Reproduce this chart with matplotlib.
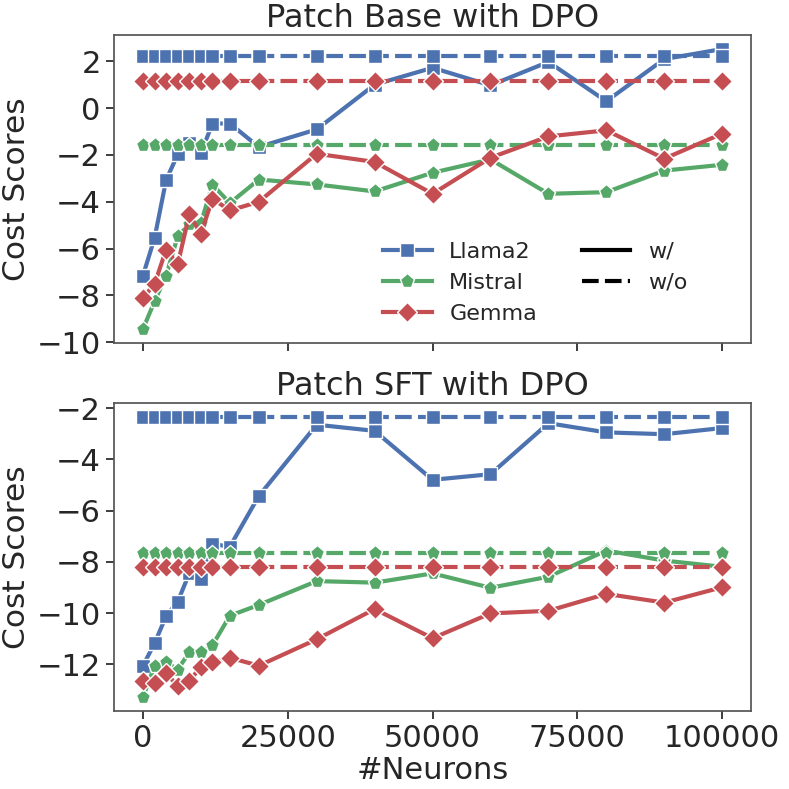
import matplotlib
matplotlib.use("Agg")
import matplotlib.pyplot as plt
from matplotlib.lines import Line2D

neurons = [0, 2000, 4000, 6000, 8000, 10000, 12000, 15000, 20000,
           30000, 40000, 50000, 60000, 70000, 80000, 90000, 100000]
models = ["Llama2", "Mistral", "Gemma"]

# Patch Base with DPO
base_llama2_w = [-7.15, -5.55, -3.07, -1.98, -1.48, -1.92, -0.66, -0.66, -1.66,
                 -0.91, 1.00, 1.72, 0.97, 1.97, 0.29, 2.09, 2.52]
base_mistral_w = [-9.43, -8.25, -7.15, -5.47, -4.97, -4.90, -3.27, -4.06, -3.05,
                  -3.26, -3.56, -2.76, -2.19, -3.66, -3.59, -2.67, -2.42]
base_gemma_w = [-8.11, -7.51, -6.04, -6.67, -4.54, -5.37, -3.87, -4.37, -4.00,
                -1.95, -2.30, -3.66, -2.12, -1.21, -0.95, -2.16, -1.09]
base_llama2_wo = 2.23
base_mistral_wo = -1.58
base_gemma_wo = 1.14

# Patch SFT with DPO
sft_llama2_w = [-12.05, -11.18, -10.11, -9.55, -8.45, -8.68, -7.30, -7.41, -5.43,
                -2.65, -2.89, -4.80, -4.58, -2.59, -2.95, -3.02, -2.78]
sft_mistral_w = [-13.27, -12.07, -11.91, -12.20, -11.53, -11.53, -11.25, -10.10, -9.68,
                 -8.75, -8.81, -8.45, -9.01, -8.58, -7.56, -7.95, -8.19]
sft_gemma_w = [-12.65, -12.74, -12.35, -12.84, -12.65, -12.09, -11.92, -11.74, -12.05,
               -11.02, -9.84, -10.98, -10.01, -9.91, -9.25, -9.59, -8.99]
sft_llama2_wo = -2.35
sft_mistral_wo = -7.65
sft_gemma_wo = -8.21

titles = ["Patch Base with DPO", "Patch SFT with DPO"]
xticks = [0, 25000, 50000, 75000, 100000]
yticks_top = [2, 0, -2, -4, -6, -8, -10]
yticks_bot = [-2, -4, -6, -8, -10, -12]

colors = {"Llama2": "#4C72B0", "Mistral": "#55A868", "Gemma": "#C44E52"}
markers = {"Llama2": "s", "Mistral": "p", "Gemma": "D"}
msizes = {"Llama2": 10, "Mistral": 11, "Gemma": 10}

plt.rcParams.update({
    "font.family": ["DejaVu Sans"],
    "text.color": "#262626",
    "axes.labelcolor": "#262626",
    "xtick.color": "#262626",
    "ytick.color": "#262626",
    "axes.edgecolor": "#555555",
    "axes.linewidth": 1.25,
    "xtick.major.width": 1.25,
    "ytick.major.width": 1.25,
    "xtick.major.size": 6,
    "ytick.major.size": 6,
    "xtick.direction": "out",
    "ytick.direction": "out",
})

fig = plt.figure(figsize=(7.89, 7.89), dpi=100)
ax1 = fig.add_axes([0.1445, 0.5653, 0.8075, 0.3903])
ax2 = fig.add_axes([0.1445, 0.0989, 0.8075, 0.3903], sharex=ax1)

panels = [
    (ax1, {"Llama2": (base_llama2_w, base_llama2_wo),
           "Mistral": (base_mistral_w, base_mistral_wo),
           "Gemma": (base_gemma_w, base_gemma_wo)}, yticks_top),
    (ax2, {"Llama2": (sft_llama2_w, sft_llama2_wo),
           "Mistral": (sft_mistral_w, sft_mistral_wo),
           "Gemma": (sft_gemma_w, sft_gemma_wo)}, yticks_bot),
]

for i, (ax, data, yt) in enumerate(panels):
    for m in models:
        w, wo = data[m]
        ax.plot(neurons, w, color=colors[m], lw=3, marker=markers[m],
                ms=msizes[m], mec="white", mew=1)
        ax.plot(neurons, [wo] * len(neurons), color=colors[m], lw=3,
                dashes=(4, 1.5), marker=markers[m], ms=msizes[m],
                mec="white", mew=1)
    ax.set_title(titles[i], fontsize=23, pad=6)
    ax.set_ylabel("Cost Scores", fontsize=22.5)
    ax.set_yticks(yt)
    ax.tick_params(labelsize=22)
    ax.margins(x=0.05, y=0.05)

ax1.set_xticks(xticks)
ax1.tick_params(axis="x", labelbottom=False)
ax2.set_xlabel("#Neurons", fontsize=22, labelpad=2)

handles = [
    Line2D([], [], color=colors["Llama2"], lw=3, marker="s", ms=10, mec="white", mew=1),
    Line2D([], [], color=colors["Mistral"], lw=3, marker="p", ms=11, mec="white", mew=1),
    Line2D([], [], color=colors["Gemma"], lw=3, marker="D", ms=10, mec="white", mew=1),
    Line2D([], [], color="black", lw=3),
    Line2D([], [], color="black", lw=3, dashes=(4, 1.5)),
    Line2D([], [], color="none", lw=0),
]
labels = ["Llama2", "Mistral", "Gemma", "w/", "w/o", ""]
ax1.legend(handles, labels, ncol=2, frameon=False, fontsize=16,
           loc="center", bbox_to_anchor=(0.661, 0.195),
           handlelength=2.2, columnspacing=2.0, labelspacing=0.5)

fig.savefig("out.png", dpi=100)
